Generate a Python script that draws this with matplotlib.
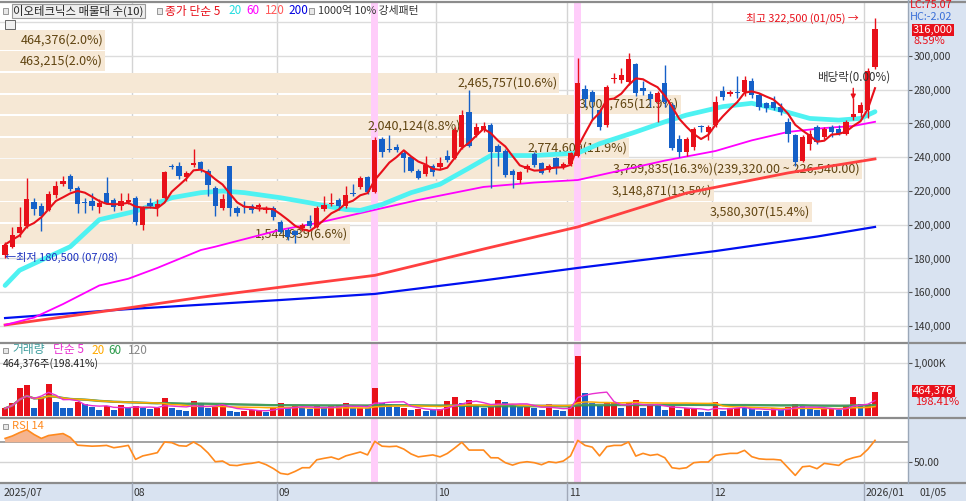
import numpy as np
import pandas as pd
import matplotlib
matplotlib.use("Agg")
import matplotlib.pyplot as plt
import matplotlib.transforms as mtransforms
from matplotlib.patches import Rectangle

plt.rcParams['font.family'] = ['Noto Sans CJK KR', 'DejaVu Sans']
plt.rcParams['font.size'] = 7.5

W, H = 966, 501

# 일봉 (천원) 2025/07/08 ~ 2026/01/05
opens = [182, 187, 195, 199, 213.5, 211, 209, 217.6, 224, 229,
         221.8, 213.5, 214, 210.5, 219, 214.7, 211, 213.5, 216, 200,
         213, 210.5, 216, 234.7, 235, 228, 235.4, 237, 232, 222,
         210, 234.8, 210, 211, 211, 210.5, 209, 210, 201.6, 197,
         196, 198, 202, 198.7, 209.3, 212, 214.7, 211, 219, 222.4,
         228, 219.4, 250.8, 244.5, 246, 242.5, 240, 232, 230, 234.8,
         234, 241, 239.5, 246, 266.8, 253, 256, 259, 246.7, 243.7,
         232, 226.5, 233, 242, 236.6, 232.4, 239.5, 234, 236, 241,
         280.4, 278.7, 268, 259, 286.5, 286, 284.6, 295, 281, 277.5,
         273, 284, 271, 250.8, 243, 246, 258.3, 255, 259, 279,
         277.5, 278.5, 278.7, 285, 277, 272, 272.7, 270, 261, 253,
         238, 248, 258, 252, 258, 257, 254, 264, 266, 268,
         293.5]
highs = [189.5, 198.7, 210.5, 227.7, 216, 213, 220, 226, 229, 230,
         223, 216, 219, 215, 228, 216, 219, 219, 217, 211,
         216, 215, 232, 236, 237, 232, 245, 238, 233, 223,
         218, 235, 211, 214, 212, 213, 211, 211, 203, 198,
         197, 201, 206, 211, 217, 219, 216, 223, 224, 229,
         229, 252, 252, 253, 248, 244, 241, 233, 241, 236,
         240, 244, 258, 268, 280, 260, 261, 260, 248, 245,
         233, 232, 236, 243, 237, 236, 240, 237, 243, 298.8,
         283, 280, 269, 283, 290, 293, 301.7, 296, 285, 279,
         279, 294.7, 272, 253, 252, 258, 259, 259, 276, 282,
         280, 288, 288, 287, 278, 273, 276, 272, 263, 254,
         253, 256, 259, 258, 259, 259, 262, 275, 273, 293,
         322.5]
lows = [180.5, 186, 193, 198, 206, 196, 208, 216, 223, 220,
        207, 207, 209, 207, 212, 208, 209, 212, 200, 197,
        210, 205, 215, 233, 227, 226, 234, 231, 217, 205,
        209, 205, 205, 207, 207, 208, 207, 203, 195, 191,
        189, 196, 198, 198, 208, 211, 209, 210, 217, 221,
        218, 219, 240, 243, 243, 231, 231, 227, 229, 229,
        233, 237, 239, 245, 246, 252, 255, 222, 235, 228,
        222, 225, 231, 234, 230, 231, 230, 233, 235, 240,
        270, 262, 256, 258, 284, 284, 283, 276, 277, 270,
        261, 270, 244, 240, 241, 244, 255, 250, 258, 274,
        276, 275, 276, 275, 268, 267, 268, 265, 249, 235,
        237, 244, 248, 251, 252, 253, 253, 262, 264, 263,
        292]
closes = [188.2, 194, 198.7, 215, 209.3, 205, 218, 223, 226, 221,
          212, 213, 211, 213, 213, 210.5, 214, 214.5, 201.6, 210,
          211, 212, 231, 234, 229, 230.6, 236.6, 233, 223.5, 211,
          215, 210, 207, 210.5, 209, 211.7, 210, 204.6, 195.7, 192.7,
          194, 200, 199, 210, 211.7, 213, 211, 217.6, 218, 227.7,
          219.4, 250, 243, 244, 244, 239.5, 232, 227.7, 235.4, 231,
          236.6, 238.4, 256, 265, 246.7, 258, 258.5, 243, 243, 229.5,
          229.5, 231, 235, 235.4, 230.6, 234.8, 233.6, 236, 242.5, 284,
          274.5, 272.7, 258, 281.6, 287, 289, 298, 278, 279, 274.5,
          278, 272.7, 245.5, 243, 251, 256.7, 257.7, 258, 273, 275.7,
          278.7, 278, 285.8, 277, 270, 269, 269, 267, 254, 237,
          252, 254, 249, 257, 255, 254, 261, 265.6, 271, 291,
          316]

# 거래량 (천주) 와 색 (r: 증가, b: 감소)
volumes = [145, 253, 538, 588, 145, 367, 607, 272, 158, 158,
           259, 228, 177, 114, 190, 114, 209, 158, 190, 158,
           133, 158, 335, 158, 114, 95, 285, 253, 158, 165,
           209, 95, 82, 101, 114, 120, 82, 145, 240, 145,
           190, 158, 126, 190, 145, 190, 200, 240, 145, 150,
           145, 538, 253, 221, 177, 158, 114, 126, 95, 114,
           126, 285, 354, 253, 303, 209, 145, 177, 303, 272,
           221, 177, 177, 145, 114, 221, 114, 101, 177, 1138,
           443, 253, 190, 240, 240, 145, 240, 303, 145, 209,
           190, 114, 190, 114, 145, 145, 82, 82, 272, 101,
           145, 158, 145, 126, 101, 95, 145, 114, 177, 228,
           190, 126, 114, 133, 145, 114, 190, 354, 228, 228,
           464.376]
vol_dir = ("rrrrbrrbbb" "rbbbrbrbrb" "brrbbbrbbr" "rbbrrrbrrb" "rbbrbrrrbr"
           "brbbbrbrbb" "rrrbrbbrrb" "bbrbbrbbrr" "bbbrrbrrbr" "bbrbrrbbrb"
           "rrbbbbrbrr" "bbbrrbrrbr" "r")

# RSI 14
rsi = [74, 76.5, 80, 83, 78, 74, 77, 78, 79, 75,
       67, 66.5, 66, 66.3, 66.8, 64.4, 65.5, 66.8, 52.4, 56,
       57.6, 59.3, 70.3, 69.6, 66.5, 66, 70.3, 66, 59, 50,
       50.7, 46.5, 46, 47.5, 48.3, 49.7, 47, 43, 38, 36.9,
       40, 43.8, 43.8, 52, 53.5, 54.8, 52.4, 56, 58, 60,
       57, 71, 66, 65.5, 66, 63, 58, 55, 56, 57,
       55, 58.5, 64, 70, 62, 62, 62, 54.1, 54, 49,
       46.5, 49, 50, 49, 46.9, 50, 49, 50.7, 56, 72,
       66.8, 65, 56, 65.5, 66.8, 66.8, 70.3, 55.8, 58.6, 56.5,
       57.6, 54.1, 43.8, 42.8, 43.8, 49, 49.7, 49.7, 56.5, 57.6,
       58.6, 58.6, 61.7, 55.2, 53, 52.4, 52.4, 51.7, 43.8, 35.9,
       44.8, 45.5, 42.8, 48.3, 47.3, 46.2, 51.7, 54.1, 55.8, 62.7,
       72]

# 이동평균
ma20_idx = [0, 2, 9, 13, 18, 23, 27, 30, 33, 38, 42, 47, 49, 52, 56, 60, 64, 67,
            73, 79, 82, 87, 91, 94, 99, 103, 106, 111, 115, 118, 120]
ma20_val = [164, 173, 187, 203, 208, 216, 219, 220, 219, 216, 213, 209, 208.5, 212,
            219, 224, 233.6, 241, 241, 242.5, 248, 255, 261, 265, 270, 272, 269,
            263, 262, 263, 267]
ma60_idx = [0, 4, 8, 13, 17, 21, 27, 29, 38, 43, 57, 66, 73, 79, 91, 98, 103, 108,
            113, 117, 120]
ma60_val = [140.6, 145, 153, 164, 168, 174.4, 185, 187, 197, 201, 214.7, 222.4, 225,
            226.5, 238, 243.7, 250, 255, 257.3, 258.5, 261]
ma120_idx = [0, 17, 27, 38, 51, 66, 79, 94, 108, 120]
ma120_val = [140.6, 150.7, 157, 163, 170, 185.6, 198.7, 218.8, 230.7, 239]
ma200_idx = [0, 17, 38, 51, 66, 79, 98, 112, 120]
ma200_val = [144.7, 150, 155.4, 159, 167, 174.4, 184.4, 193, 198.7]

# 매물대 (10)
band_low, band_step = 188.2, 12.78
band_vol = [1544939, 3580307, 3148871, 3799835, 2774609, 2040124, 3001765, 2465757,
            463215, 464376]
band_pct = [6.6, 15.4, 13.5, 16.3, 11.9, 8.8, 12.9, 10.6, 2.0, 2.0]

# 강세패턴 발생일
pattern_days = [51, 79]

month_labels = ['2025/07', '08', '09', '10', '11', '12', '2026/01']
month_start = [0, 18, 38, 60, 78, 98, 119]

price_ticks = [140, 160, 180, 200, 220, 240, 260, 280, 300]

RED = '#e8101a'
BLUE = '#1560c8'
BG = '#d9e3f1'
KFS = 8.5  # 한글 글자 크기

n = len(closes)
x = np.arange(n)
o = np.array(opens); c = np.array(closes)
cols = [RED if cc >= oo else BLUE for oo, cc in zip(o, c)]
ma5 = pd.Series(closes).rolling(5, min_periods=1).mean()

fig = plt.figure(figsize=(W / 100, H / 100), dpi=100)
fig.patch.set_facecolor('white')


def fx(px):
    return px / W


def fy(py):
    return 1 - py / H


def ftext(px, py, s, **kw):
    kw.setdefault('va', 'center')
    fig.text(fx(px), fy(py), s, **kw)


def fbox(px, py, w, h, **kw):
    fig.add_artist(Rectangle((fx(px), fy(py + h)), w / W, h / H,
                             transform=fig.transFigure, **kw))


# 오른쪽, 아래 눈금 영역
fbox(908, 0, 58, 501, facecolor=BG, edgecolor='none', zorder=0)
fbox(0, 483, 966, 18, facecolor=BG, edgecolor='none', zorder=0)

ax_p = fig.add_axes([0, fy(341), fx(908), 338 / H])
ax_v = fig.add_axes([0, fy(416), fx(908), 72 / H])
ax_r = fig.add_axes([0, fy(482), fx(908), 63 / H])

XL = (-0.7, 124.55)
for ax in (ax_p, ax_v, ax_r):
    ax.set_xlim(*XL)
    for s in ax.spines.values():
        s.set_visible(False)
    ax.set_xticks([])
    ax.yaxis.tick_right()
    ax.tick_params(axis='y', direction='out', length=3, width=0.8, pad=1,
                   colors='#555555', labelcolor='#333333', labelsize=7.5)
    for m in month_start[1:]:
        ax.axvline(m - 0.5, color='#d4d4d4', lw=1, zorder=0)
    for d in pattern_days:
        ax.axvspan(d - 0.5, d + 0.5, color='#ffcdfa', lw=0, zorder=1.5)

# ---- 가격 ----
ax_p.set_ylim(131.1, 331.4)
for v in range(140, 330, 20):
    ax_p.axhline(v, color='#dcdcdc', lw=1, zorder=0)
ax_p.set_yticks(price_ticks)
ax_p.set_yticklabels([f"{v * 1000:,}" for v in price_ticks])

span = XL[1] - XL[0]
vmax = max(band_vol)
for k, (bv, bp) in enumerate(zip(band_vol, band_pct)):
    lo = band_low + k * band_step
    wfrac = bv / vmax * (862 / 908)
    ax_p.add_patch(Rectangle((XL[0], lo + band_step * 0.04), wfrac * span, band_step * 0.92,
                             facecolor='#f6e8d5', edgecolor='none', zorder=1))
    label = f"{bv:,}({bp:.1f}%)"
    if bv == vmax:
        label += f"({(lo + band_step) * 1000:,.2f} ~ {lo * 1000:,.2f})"
    ax_p.text(XL[0] + wfrac * span - 0.3, lo + band_step / 2, label, ha='right',
              va='center', color='#604410', fontsize=9, zorder=2)

ax_p.plot(ma200_idx, ma200_val, color='#0010f0', lw=1.6, zorder=3)
ax_p.plot(ma120_idx, ma120_val, color='#ff4040', lw=2.0, zorder=3)
ax_p.plot(ma60_idx, ma60_val, color='#ff00ff', lw=1.3, zorder=3)
ax_p.plot(ma20_idx, ma20_val, color='#4ef2f2', lw=3.4, zorder=3, solid_capstyle='round')

body_lo = np.minimum(o, c)
body_h = np.maximum(np.abs(c - o), 0.6)
ax_p.vlines(x, lows, highs, colors=cols, lw=1, zorder=4)
ax_p.bar(x, body_h, bottom=body_lo, width=0.72, color=cols, lw=0, zorder=4.5)
ax_p.plot(x, ma5, color=RED, lw=1.5, zorder=5)

ax_p.text(0, 180.5, "←최저 180,500 (07/08)", ha='left', va='center',
          color='#1a2fbf', fontsize=8, zorder=6)
ax_p.text(n - 1 - 2.3, 322.5, "최고 322,500 (01/05) →", ha='right', va='center',
          color=RED, fontsize=7.8, zorder=6)
ax_p.text(117, 287.5, "배당락(0.00%)", ha='center', va='center', color='#333333',
          fontsize=8.3, zorder=6)
ax_p.annotate('', xy=(117, 272.5), xytext=(117, 282.5),
              arrowprops=dict(arrowstyle='-|>', color=RED, lw=1, mutation_scale=7), zorder=6)

# ---- 거래량 ----
vol = np.array(volumes)
ax_v.set_ylim(0, 1366)
ax_v.axhline(1000, color='#dcdcdc', lw=1, zorder=0)
ax_v.bar(x, vol, width=0.82, color=[RED if d == 'r' else BLUE for d in vol_dir],
         lw=0, zorder=2)
vs = pd.Series(volumes)
ax_v.plot(x, vs.rolling(120, min_periods=1).mean(), color='#9a9a9a', lw=1.6, alpha=0.8, zorder=3)
ax_v.plot(x, vs.rolling(60, min_periods=1).mean(), color='#2a9a4a', lw=1.6, alpha=0.8, zorder=3)
ax_v.plot(x, vs.rolling(20, min_periods=1).mean(), color='#ffaa00', lw=1.1, zorder=3)
ax_v.plot(x, vs.rolling(5, min_periods=1).mean(), color='#e830d0', lw=1.0, zorder=3)
ax_v.set_yticks([1000])
ax_v.set_yticklabels(['1,000K'])

# ---- RSI ----
r = np.array(rsi)
ax_r.set_ylim(29.1, 94)
ax_r.axhline(70, color='#8a8a8a', lw=1.1, zorder=1)
ax_r.axhline(50, color='#d4d4d4', lw=1, zorder=0)
ax_r.fill_between(x, 70, r, where=r > 70, interpolate=True, color='#f5b48f', lw=0, zorder=2)
ax_r.plot(x, r, color='#ff8a1e', lw=1.2, zorder=3)
ax_r.set_yticks([50])
ax_r.set_yticklabels(['50.00'])

# 패널 구분선
for py in (1.5, 342.5, 417.5, 482.5):
    fig.add_artist(plt.Line2D([0, fx(966)], [fy(py), fy(py)], color='#8c8c8c', lw=1.6,
                              transform=fig.transFigure))
fig.add_artist(plt.Line2D([fx(908), fx(908)], [fy(0), fy(483)], color='#9aa7b8', lw=1,
                          transform=fig.transFigure))

# 날짜 축
tr = mtransforms.blended_transform_factory(ax_r.transData, fig.transFigure)
for lab, m in zip(month_labels, month_start):
    xm = max(m - 0.5, XL[0])
    if m > 0:
        fig.add_artist(plt.Line2D([m - 0.5, m - 0.5], [fy(501), fy(483)], color='#a0a8b8',
                                  lw=1, transform=tr))
    fig.text(xm + 0.25, fy(492.5), lab, transform=tr, va='center', ha='left',
             color='#333333', fontsize=7.5)
ftext(919, 492.5, "01/05", color='#333333')


def legend_icon(px, py):
    fbox(px, py - 2.5, 5, 5, facecolor='#e8e8e8', edgecolor='#888888', lw=0.6)


# 가격 범례
legend_icon(3, 11)
ftext(13, 11, "이오테크닉스 매물대 수(10)", color='#222222', fontsize=8.2,
      bbox=dict(boxstyle='square,pad=0.12', facecolor='#eeeeee', edgecolor='#9a9a9a', lw=0.8))
legend_icon(157, 11)
ftext(165, 11, "종가 단순 5", color=RED, fontsize=KFS)
ftext(228, 11, "20", color='#22dde0', fontsize=KFS)
ftext(246, 11, "60", color='#ff00ff', fontsize=KFS)
ftext(265, 11, "120", color='#ff5a5a', fontsize=KFS)
ftext(288, 11, "200", color='#0000e0', fontsize=KFS)
legend_icon(309, 11)
ftext(318, 11, "1000억 10% 강세패턴", color='#333333', fontsize=7.8)
fbox(5, 20, 10, 9, facecolor='#f0f0f0', edgecolor='#666666', lw=0.7)

# 거래량 범례
legend_icon(3, 350)
ftext(12, 350, "거래량", color='#3c9c9c', fontsize=KFS)
ftext(53, 350, "단순 5", color='#e830d0', fontsize=KFS)
ftext(91, 350, "20", color='#ffaa00', fontsize=KFS)
ftext(108, 350, "60", color='#2a9a4a', fontsize=KFS)
ftext(128, 350, "120", color='#888888', fontsize=KFS)
ftext(3, 364, "464,376주(198.41%)", color='#222222')

# RSI 범례
legend_icon(3, 426)
ftext(12, 426, "RSI 14", color='#ff8a1e', fontsize=8)

# 오른쪽 현재값 표시
ftext(910, 5.5, "LC:75.07", color=RED, fontsize=7.8)
ftext(910, 17, "HC:-2.02", color='#3a6fd8', fontsize=7.8)
ftext(913, 30, "316,000", color='white', fontsize=8,
      bbox=dict(boxstyle='square,pad=0.12', facecolor=RED, edgecolor='none'))
ftext(914, 41, "8.59%", color=RED, fontsize=8)
ftext(913, 391, "464,376", color='white', fontsize=8,
      bbox=dict(boxstyle='square,pad=0.12', facecolor=RED, edgecolor='none'))
ftext(915, 402, "198.41%", color=RED, fontsize=8)

fig.savefig('out.png', dpi=100)
